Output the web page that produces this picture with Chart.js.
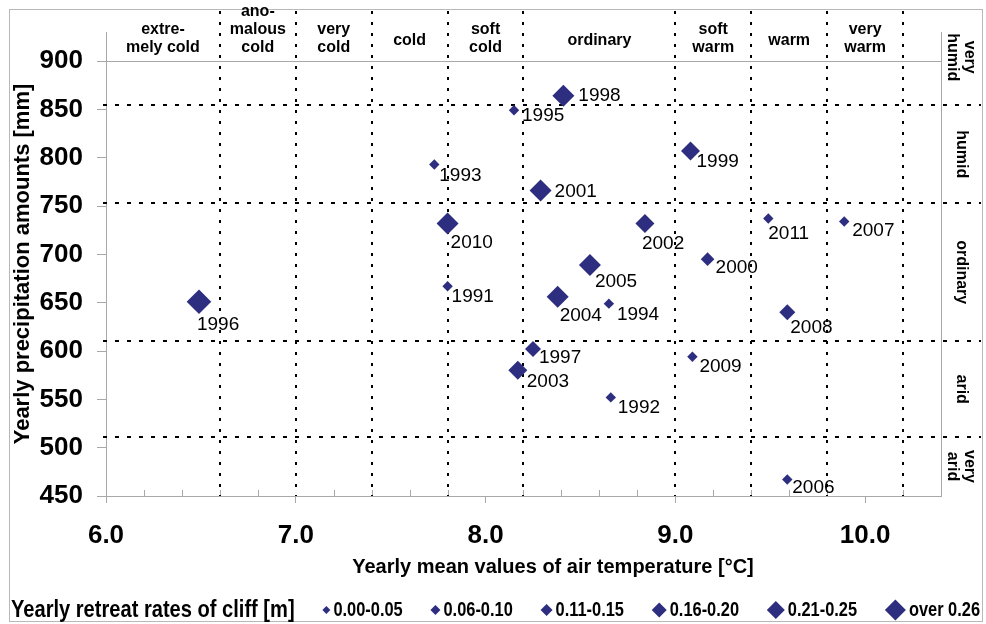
<!DOCTYPE html>
<html>
<head>
<meta charset="utf-8">
<script src="https://cdn.jsdelivr.net/npm/chart.js@4.4.1/dist/chart.umd.min.js"></script>
<style>
  html, body { margin: 0; padding: 0; background: #fff; }
</style>
</head>
<body>
<canvas id="grafico" width="986" height="624"></canvas>
<script>
// Datos
const years = [1991, 1992, 1993, 1994, 1995, 1996, 1997, 1998, 1999, 2000, 2001,
               2002, 2003, 2004, 2005, 2006, 2007, 2008, 2009, 2010, 2011];
const temperature = [7.80, 8.66, 7.73, 8.65, 8.15, 6.49, 8.25, 8.41, 9.08, 9.17, 8.29,
                     8.84, 8.17, 8.38, 8.55, 9.59, 9.89, 9.59, 9.09, 7.80, 9.49];
const precipitation = [667, 552, 793, 649, 849, 651, 602, 864, 807, 695, 766,
                       732, 580, 656, 689, 467, 734, 640, 594, 732, 737];
// clase de retroceso del acantilado (índice en rateClasses)
const retreatClass = [0, 0, 0, 0, 0, 5, 2, 4, 3, 1, 4,
                      3, 3, 4, 4, 0, 0, 2, 0, 4, 0];
const rateClasses = ['0.00-0.05', '0.06-0.10', '0.11-0.15', '0.16-0.20', '0.21-0.25', 'over 0.26'];

const xTicks = [6.0, 7.0, 8.0, 9.0, 10.0];
const yTicks = [450, 500, 550, 600, 650, 700, 750, 800, 850, 900];

// límites de las clases térmicas y pluviométricas
const tempBounds = [6.6, 7.0, 7.4, 7.8, 8.2, 9.0, 9.4, 9.8, 10.2];
const tempClasses = [['extre-', 'mely cold'], ['ano-', 'malous', 'cold'], ['very', 'cold'], ['cold'],
                     ['soft', 'cold'], ['ordinary'], ['soft', 'warm'], ['warm'], ['very', 'warm']];
const precBounds = [511, 610, 753, 854];
const precClasses = [['very', 'arid'], ['arid'], ['ordinary'], ['humid'], ['very', 'humid']];

const NAVY = '#2e2e80';
const GRAY = '#a8a8a8';
const SANS = '"Liberation Sans", Arial, sans-serif';
const markerRadius = [5.2, 6.8, 8, 9.5, 11, 12.3];
const legendRadius = [4, 5, 6, 7.5, 9, 10.5];
const SQUEEZE = 0.82; // imitar la fuente estrecha de la leyenda

// Un conjunto de datos por clase de retroceso
const datasets = rateClasses.map((label, c) => ({
  label: label,
  data: years.map((yr, i) => ({ x: temperature[i], y: precipitation[i], year: yr }))
             .filter((p, i) => retreatClass[i] === c),
  pointStyle: 'rectRot',
  pointRadius: markerRadius[c],
  pointHoverRadius: markerRadius[c],
  backgroundColor: NAVY,
  borderColor: NAVY,
  borderWidth: 0
}));

function narrowText(ctx, text, x, y) {
  ctx.save();
  ctx.translate(x, y);
  ctx.scale(SQUEEZE, 1);
  ctx.fillText(text, 0, 0);
  ctx.restore();
  return ctx.measureText(text).width * SQUEEZE;
}

const decor = {
  id: 'decor',
  beforeDraw(chart) {
    const ctx = chart.ctx;
    ctx.save();
    ctx.strokeStyle = '#b8b8b8';
    ctx.lineWidth = 1;
    ctx.strokeRect(9.5, 9.5, 973, 612);
    ctx.restore();
  },
  beforeDatasetsDraw(chart) {
    const { ctx, chartArea: a, scales: { x, y } } = chart;
    ctx.save();
    ctx.strokeStyle = GRAY;
    ctx.lineWidth = 1;
    const r = Math.round(a.right) + 0.5;
    ctx.beginPath();
    ctx.moveTo(r, a.top);
    ctx.lineTo(r, a.bottom);
    // marcas menores del eje x
    for (let k = 1; k < 22; k++) {
      if (k % 5 === 0) continue;
      const px = Math.round(x.getPixelForValue(6 + k * 0.2)) + 0.5;
      ctx.moveTo(px, a.bottom - 6);
      ctx.lineTo(px, a.bottom);
    }
    ctx.stroke();

    ctx.strokeStyle = '#000';
    ctx.lineWidth = 2;
    ctx.setLineDash([3, 8]);
    ctx.beginPath();
    tempBounds.forEach(v => {
      const px = Math.round(x.getPixelForValue(v));
      ctx.moveTo(px, 11);
      ctx.lineTo(px, a.bottom);
    });
    ctx.stroke();
    ctx.setLineDash([4, 8]);
    ctx.beginPath();
    precBounds.forEach(v => {
      const py = Math.round(y.getPixelForValue(v));
      ctx.moveTo(a.left - 3, py);
      ctx.lineTo(981, py);
    });
    ctx.stroke();
    ctx.restore();
  },
  afterDatasetsDraw(chart, args, opts) {
    const { ctx, chartArea: a, scales: { x, y } } = chart;
    ctx.save();
    ctx.fillStyle = '#000';

    // etiquetas de los años
    ctx.font = '19px ' + SANS;
    ctx.textAlign = 'left';
    ctx.textBaseline = 'middle';
    chart.data.datasets.forEach((ds, di) => {
      chart.getDatasetMeta(di).data.forEach((pt, i) => {
        const yr = ds.data[i].year;
        const off = opts.labelOffset[yr] || [6, 10];
        ctx.fillText(String(yr), pt.x + off[0], pt.y + off[1]);
      });
    });

    // clases térmicas arriba
    ctx.font = 'bold 16px ' + SANS;
    ctx.textAlign = 'center';
    tempClasses.forEach((lines, i) => {
      const x0 = x.getPixelForValue(i === 0 ? 6.0 : tempBounds[i - 1]);
      const x1 = x.getPixelForValue(tempBounds[i]);
      const cx = (x0 + x1) / 2;
      const n = lines.length;
      lines.forEach((t, k) => {
        const ty = n === 1 ? 41 : 48 - (n - 1 - k) * 18;
        ctx.fillText(t, cx, ty);
      });
    });

    // clases pluviométricas a la derecha
    precClasses.forEach((lines, j) => {
      const y0 = j === 0 ? a.bottom : y.getPixelForValue(precBounds[j - 1]);
      const y1 = j === precClasses.length - 1 ? 9 : y.getPixelForValue(precBounds[j]);
      const cy = (y0 + y1) / 2;
      ctx.save();
      ctx.translate(961, cy);
      ctx.rotate(Math.PI / 2);
      const n = lines.length;
      lines.forEach((t, k) => ctx.fillText(t, 0, (k - (n - 1) / 2) * 17));
      ctx.restore();
    });

    // título del eje x
    ctx.font = 'bold 20px ' + SANS;
    ctx.fillText('Yearly mean values of air temperature [°C]', 553, 567);

    // leyenda
    const ly = 610;
    ctx.textAlign = 'left';
    ctx.font = 'bold 24.5px ' + SANS;
    let lx = 11 + narrowText(ctx, 'Yearly retreat rates of cliff [m]', 11, ly);
    ctx.font = 'bold 20px ' + SANS;
    const widths = rateClasses.map(t => ctx.measureText(t).width * SQUEEZE);
    const used = widths.reduce((s, w, c) => s + w + 2 * legendRadius[c] + 3, 0);
    const gap = (980 - lx - used) / rateClasses.length;
    rateClasses.forEach((t, c) => {
      lx += gap;
      const rr = legendRadius[c];
      ctx.fillStyle = NAVY;
      ctx.beginPath();
      ctx.moveTo(lx, ly);
      ctx.lineTo(lx + rr, ly - rr);
      ctx.lineTo(lx + 2 * rr, ly);
      ctx.lineTo(lx + rr, ly + rr);
      ctx.closePath();
      ctx.fill();
      lx += 2 * rr + 3;
      ctx.fillStyle = '#000';
      lx += narrowText(ctx, t, lx, ly);
    });
    ctx.restore();
  }
};

new Chart(document.getElementById('grafico'), {
  type: 'scatter',
  data: { datasets: datasets },
  plugins: [decor],
  options: {
    responsive: false,
    animation: false,
    devicePixelRatio: 1,
    layout: { padding: { left: 0, top: 32, right: 45, bottom: 0 } },
    plugins: {
      legend: { display: false },
      tooltip: { enabled: false },
      decor: {
        labelOffset: {
          1991: [4, 11], 1992: [7, 10], 1993: [5, 11], 1994: [8, 11], 1995: [8, 5],
          1996: [-2, 23], 1997: [6, 9], 1998: [15, 0], 1999: [6, 11], 2000: [8, 9],
          2001: [14, 1], 2002: [-3, 20], 2003: [9, 11], 2004: [2, 19], 2005: [5, 17],
          2006: [5, 8], 2007: [8, 9], 2008: [3, 15], 2009: [7, 10], 2010: [3, 19], 2011: [0, 15]
        }
      }
    },
    scales: {
      x: {
        type: 'linear',
        min: 6,
        max: 10.4,
        afterBuildTicks: s => { s.ticks = xTicks.map(v => ({ value: v })); },
        afterFit: s => { s.height = 128; },
        grid: { drawOnChartArea: false, tickLength: 7, color: GRAY },
        border: { color: GRAY },
        ticks: {
          color: '#000',
          padding: 17,
          autoSkip: false,
          maxRotation: 0,
          font: { family: SANS, size: 26, weight: 'bold' },
          callback: v => Number(v).toFixed(1)
        }
      },
      y: {
        type: 'linear',
        min: 450,
        max: 930,
        afterBuildTicks: s => { s.ticks = yTicks.map(v => ({ value: v })); },
        afterFit: s => { s.width = 106; },
        grid: {
          color: c => (c.tick && c.tick.value === 900 ? GRAY : 'rgba(0,0,0,0)'),
          tickColor: GRAY,
          tickLength: 9
        },
        border: { color: GRAY },
        ticks: {
          color: '#000',
          padding: 14,
          font: { family: SANS, size: 26, weight: 'bold' }
        },
        title: {
          display: true,
          text: 'Yearly precipitation amounts [mm]',
          color: '#000',
          font: { family: SANS, size: 22, weight: 'bold' },
          padding: { top: 10, bottom: 0 }
        }
      }
    }
  }
});
</script>
</body>
</html>
